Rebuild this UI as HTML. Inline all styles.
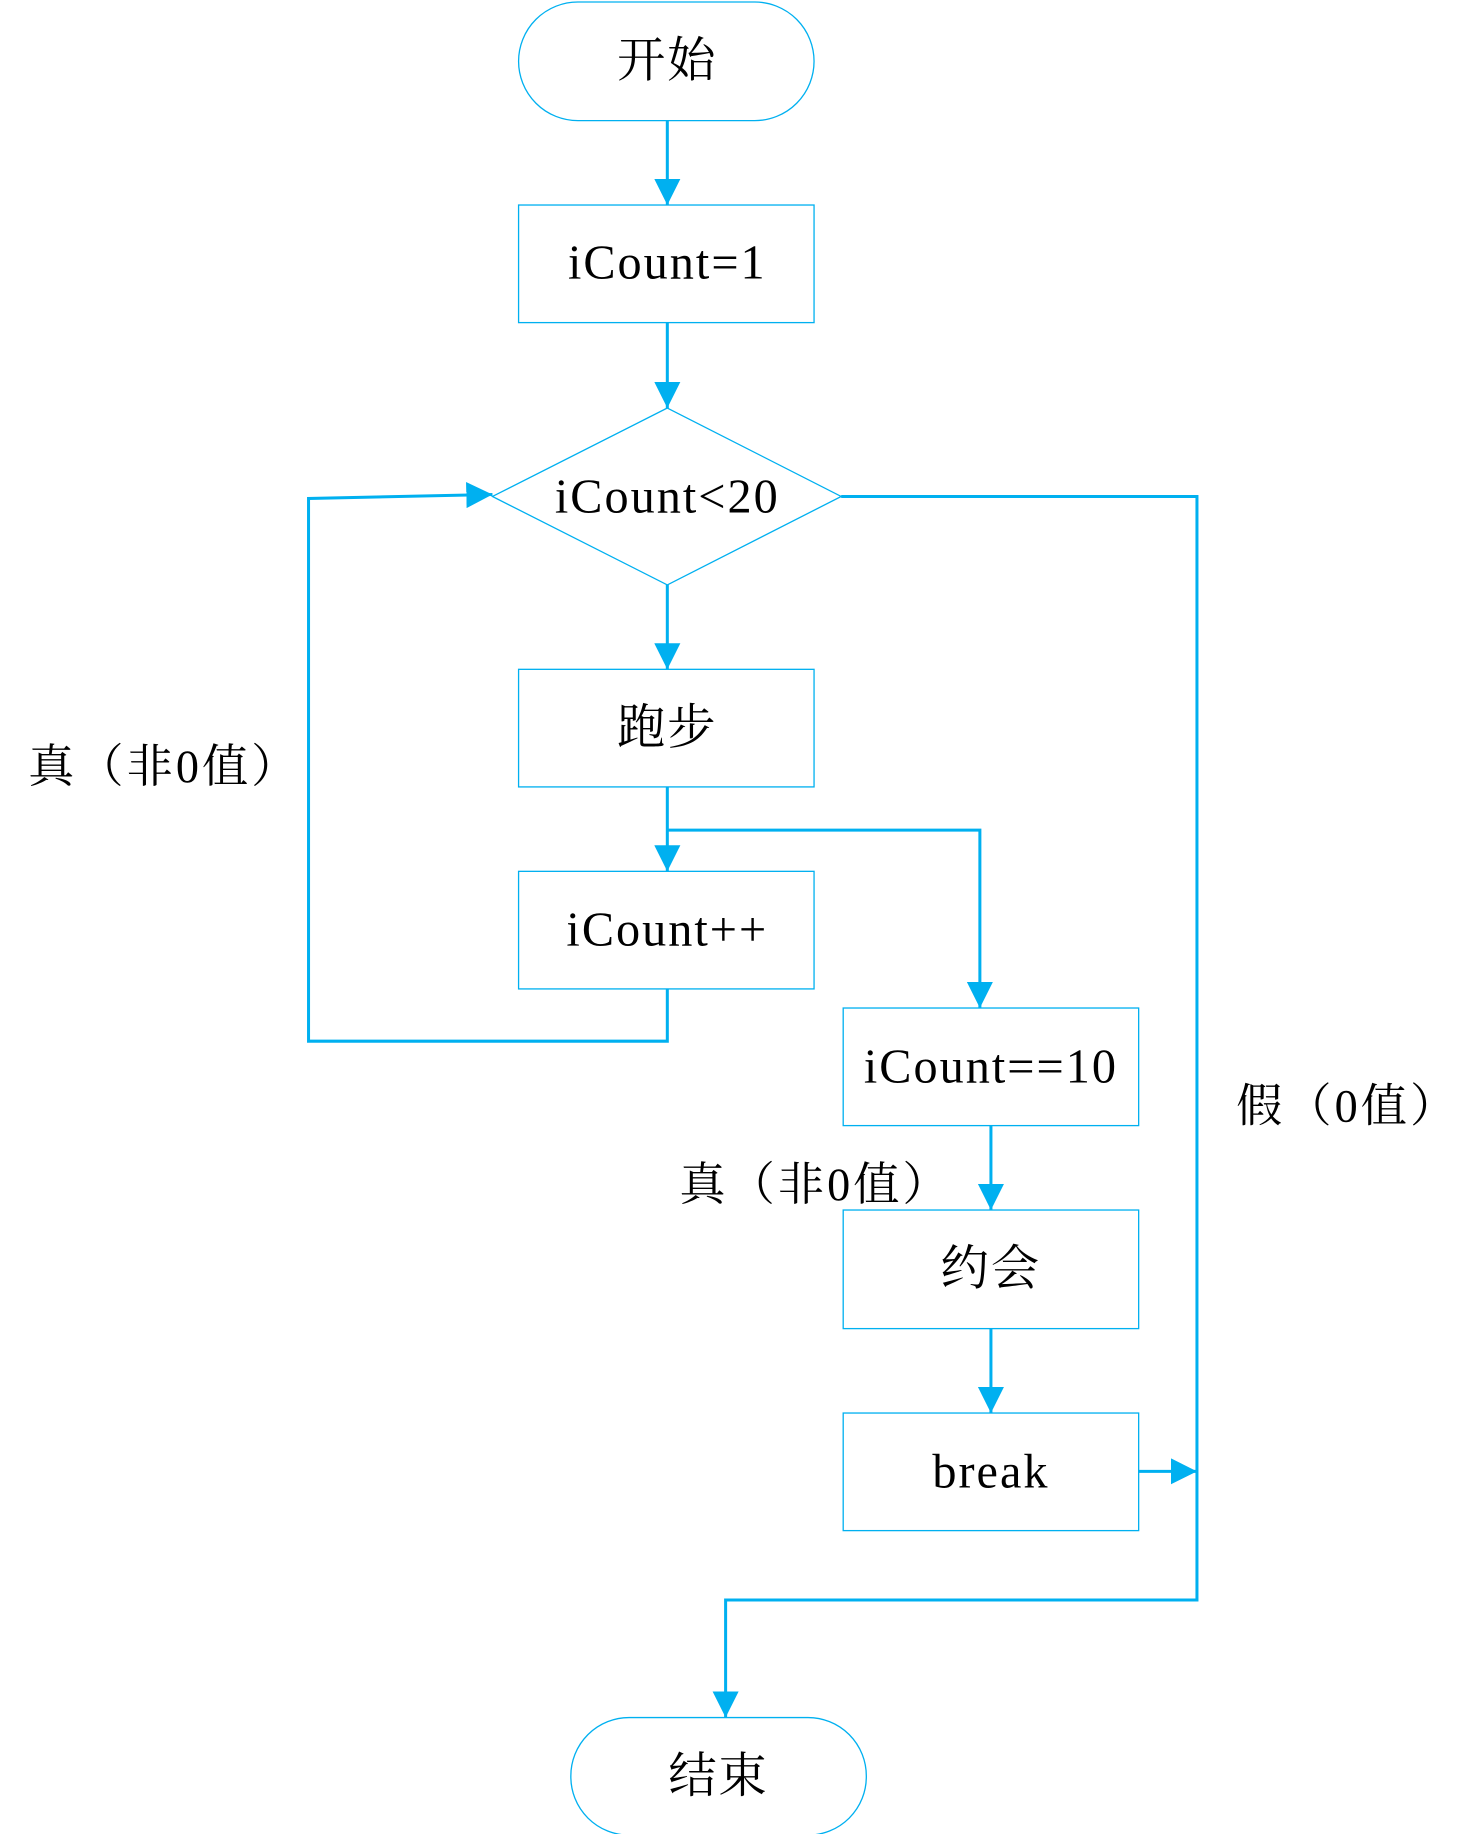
<!DOCTYPE html>
<html><head><meta charset="utf-8"><style>
body{margin:0;background:#fff;}
svg text{font-family:"Liberation Serif","Noto Serif CJK SC",serif;fill:#000;}
</style></head><body>
<svg width="1481" height="1834" viewBox="0 0 1481 1834" xmlns="http://www.w3.org/2000/svg">
<defs>
<marker id="b" viewBox="0 0 10 10" refX="10" refY="5" markerWidth="26" markerHeight="26" orient="auto" markerUnits="userSpaceOnUse"><path d="M0,0 L10,5 L0,10z" fill="#00B0F0"/></marker></defs>
<g transform="scale(1.005)">
<g fill="none" stroke="#00B0F0" stroke-width="1.3">
<rect x="516" y="2" width="294" height="118" rx="59"/>
<rect x="516" y="204" width="294" height="117"/>
<polygon points="664,406 837,494 664,582 490,494"/>
<rect x="516" y="666" width="294" height="117"/>
<rect x="516" y="867" width="294" height="117"/>
<rect x="839" y="1003" width="294" height="117"/>
<rect x="839" y="1204" width="294" height="118"/>
<rect x="839" y="1406" width="294" height="117"/>
<rect x="568" y="1709" width="294" height="117" rx="58"/>
</g>
<g fill="none" stroke="#00B0F0" stroke-width="3" marker-end="url(#b)">
<path d="M664 120 V204"/>
<path d="M664 321 V406"/>
<path d="M664 582 V666"/>
<path d="M664 783 V867"/>
<path d="M664 826 H975 V1003"/>
<path d="M986 1120 V1204"/>
<path d="M986 1322 V1406"/>
<path d="M1133 1464 H1191"/>
<path d="M664 984 V1036 H307 V496 L490 492"/>
<path d="M837 494 H1191 V1592 H722 V1709"/>
</g>
<g font-size="48" text-anchor="middle" letter-spacing="2">
<text x="664" y="76">开始</text>
<text x="664" y="277">iCount=1</text>
<text x="664" y="510">iCount&lt;20</text>
<text x="664" y="740">跑步</text>
<text x="664" y="941">iCount++</text>
<text x="986" y="1077">iCount==10</text>
<text x="986" y="1278">约会</text>
<text x="986" y="1480">break</text>
<text x="715" y="1783">结束</text>
</g>
<g font-size="46" letter-spacing="3">
<text x="28" y="778">真（非0值）</text>
<text x="676" y="1194">真（非0值）</text>
<text x="1230" y="1116">假（0值）</text>
</g>
</g>
</svg>
</body></html>
